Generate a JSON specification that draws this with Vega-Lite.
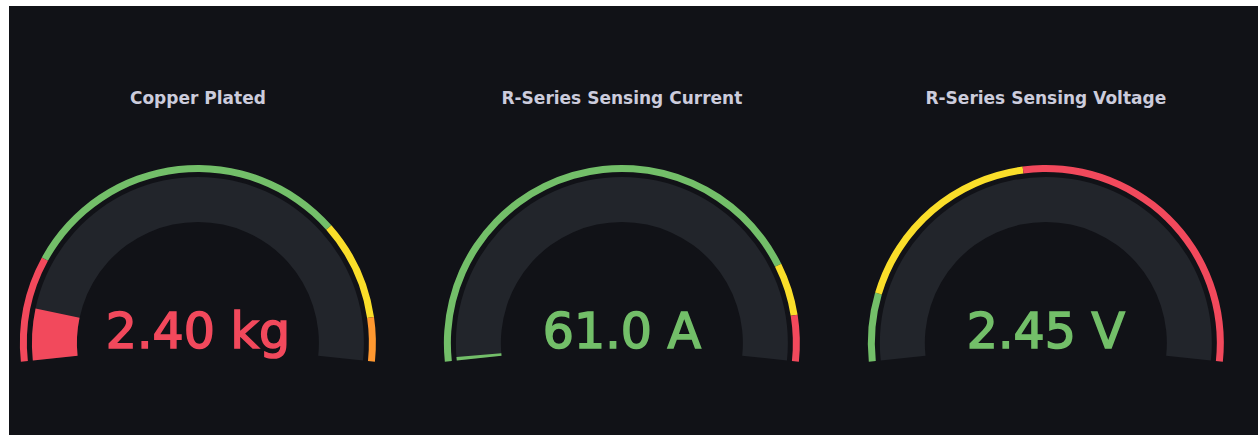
{
  "$schema": "https://vega.github.io/schema/vega-lite/v6.json",
  "width": 1258,
  "height": 435,
  "autosize": {"type": "fit", "contains": "padding"},
  "padding": {"left": 9, "top": 6, "right": 0, "bottom": 0},
  "background": "#ffffff",
  "config": {"view": {"fill": "#111217", "stroke": null}},
  "datasets": {
    "gauges": [
      {"title": "Copper Plated", "label": "2.40 kg", "value": 2.4, "min": 0, "max": 100, "pct": 9.4, "level": "red"},
      {"title": "R-Series Sensing Current", "label": "61.0 A", "value": 61.0, "min": 0, "max": 100, "pct": 0.6, "level": "green"},
      {"title": "R-Series Sensing Voltage", "label": "2.45 V", "value": 2.45, "min": 0, "max": 100, "pct": 0, "level": "green"}
    ],
    "thresholds": [
      {"title": "Copper Plated", "from": 0, "to": 18.1, "level": "red"},
      {"title": "Copper Plated", "from": 18.1, "to": 75.3, "level": "green"},
      {"title": "Copper Plated", "from": 75.3, "to": 92.5, "level": "yellow"},
      {"title": "Copper Plated", "from": 92.5, "to": 100, "level": "orange"},
      {"title": "R-Series Sensing Current", "from": 0, "to": 83.1, "level": "green"},
      {"title": "R-Series Sensing Current", "from": 83.1, "to": 92.1, "level": "yellow"},
      {"title": "R-Series Sensing Current", "from": 92.1, "to": 100, "level": "red"},
      {"title": "R-Series Sensing Voltage", "from": 0, "to": 11.7, "level": "green"},
      {"title": "R-Series Sensing Voltage", "from": 11.7, "to": 46.1, "level": "yellow"},
      {"title": "R-Series Sensing Voltage", "from": 46.1, "to": 100, "level": "red"}
    ]
  },
  "encoding": {
    "x": {
      "field": "title",
      "type": "nominal",
      "scale": {
        "type": "point",
        "domain": ["Copper Plated", "R-Series Sensing Current", "R-Series Sensing Voltage"],
        "padding": 0.473,
        "align": 0.471
      },
      "axis": null
    }
  },
  "layer": [
    {
      "data": {"name": "gauges"},
      "mark": {"type": "arc", "color": "#22252B", "radius": 166, "radius2": 121},
      "encoding": {
        "y": {"datum": 21.45, "type": "quantitative", "scale": {"domain": [0, 100]}, "axis": null},
        "theta": {"field": "min", "type": "quantitative", "stack": null, "scale": {"domain": [0, 100], "range": [-1.676, 1.676]}},
        "theta2": {"field": "max"}
      }
    },
    {
      "data": {"name": "thresholds"},
      "mark": {"type": "arc", "radius": 178, "radius2": 171},
      "encoding": {
        "y": {"datum": 21.45, "type": "quantitative", "scale": {"domain": [0, 100]}, "axis": null},
        "theta": {"field": "from", "type": "quantitative", "stack": null, "scale": {"domain": [0, 100], "range": [-1.676, 1.676]}},
        "theta2": {"field": "to"},
        "color": {
          "field": "level",
          "type": "nominal",
          "scale": {"domain": ["green", "yellow", "orange", "red"], "range": ["#73BF69", "#FADE2A", "#FF9830", "#F2495C"]},
          "legend": null
        }
      }
    },
    {
      "data": {"name": "gauges"},
      "mark": {"type": "arc", "radius": 166, "radius2": 121},
      "encoding": {
        "y": {"datum": 21.45, "type": "quantitative", "scale": {"domain": [0, 100]}, "axis": null},
        "theta": {"field": "min", "type": "quantitative", "stack": null, "scale": {"domain": [0, 100], "range": [-1.676, 1.676]}},
        "theta2": {"field": "pct"},
        "color": {"field": "level", "type": "nominal", "legend": null}
      }
    },
    {
      "data": {"name": "gauges"},
      "mark": {"type": "text", "font": "DejaVu Sans", "fontWeight": "bold", "fontSize": 17, "color": "#CCCCDC", "align": "center", "baseline": "alphabetic"},
      "encoding": {
        "y": {"datum": 77.16, "type": "quantitative", "scale": {"domain": [0, 100]}, "axis": null},
        "text": {"field": "title"}
      }
    },
    {
      "data": {"name": "gauges"},
      "mark": {"type": "text", "font": "DejaVu Sans", "fontWeight": "normal", "fontSize": 49, "align": "center", "baseline": "alphabetic", "strokeWidth": 1.6},
      "encoding": {
        "y": {"datum": 20.28, "type": "quantitative", "scale": {"domain": [0, 100]}, "axis": null},
        "text": {"field": "label"},
        "color": {"field": "level", "type": "nominal", "legend": null},
        "stroke": {
          "field": "level",
          "type": "nominal",
          "scale": {"domain": ["green", "yellow", "orange", "red"], "range": ["#73BF69", "#FADE2A", "#FF9830", "#F2495C"]},
          "legend": null
        }
      }
    }
  ]
}
